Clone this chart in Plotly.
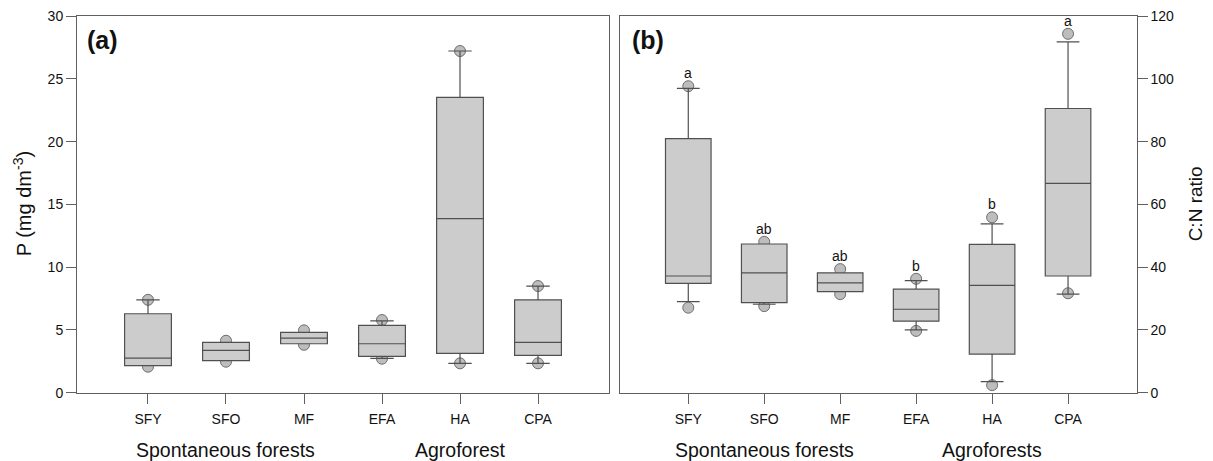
import plotly.graph_objects as go

categories = ["SFY", "SFO", "MF", "EFA", "HA", "CPA"]
positions = [1, 2, 3, 4, 5, 6]

# Panel (a): P (mg dm-3)
P_q1 = [2.15, 2.55, 3.90, 2.90, 3.13, 2.98]
P_median = [2.76, 3.37, 4.35, 3.90, 13.88, 4.01]
P_q3 = [6.29, 4.01, 4.81, 5.37, 23.54, 7.40]
P_lower = [2.15, 2.55, 3.90, 2.74, 2.34, 2.34]
P_upper = [7.40, 4.01, 4.81, 5.73, 27.23, 8.50]
P_low_pts = [2.07, 2.47, 3.82, 2.71, 2.34, 2.34]
P_high_pts = [7.40, 4.14, 4.97, 5.79, 27.23, 8.50]

# Panel (b): C:N ratio
CN_q1 = [34.85, 28.7, 32.2, 22.8, 12.3, 37.2]
CN_median = [37.2, 38.2, 35.0, 26.6, 34.2, 66.7]
CN_q3 = [81.0, 47.4, 38.2, 33.0, 47.3, 90.6]
CN_lower = [29.0, 28.2, 32.2, 20.0, 3.5, 31.4]
CN_upper = [97.0, 47.4, 38.2, 35.7, 53.8, 111.8]
CN_low_pts = [27.1, 27.6, 31.4, 19.7, 2.4, 31.7]
CN_high_pts = [97.7, 48.1, 39.4, 36.3, 55.9, 114.4]
CN_letters = ["a", "ab", "ab", "b", "b", "a"]

P_ticks = [0, 5, 10, 15, 20, 25, 30]
CN_ticks = [0, 20, 40, 60, 80, 100, 120]

groups_a = ["Spontaneous forests", "Agroforest"]
groups_b = ["Spontaneous forests", "Agroforests"]
group_pos = [2, 5]

FONT = "Liberation Sans, Arial, sans-serif"
LINE = "#505050"
BOXFILL = "#cccccc"
PTFILL = "#bdbdbd"
PTLINE = "#6e6e6e"
TXT = "#111111"

# page has an 8px body margin, so the figure is sized to fit the window
W, H = 1205, 453

fig = go.Figure()


def add_panel(xa, ya, q1, med, q3, lo, hi, lowpts, highpts):
    xs = []
    ys = []
    for p, a, b in zip(positions, lowpts, highpts):
        xs += [p, p]
        ys += [a, b]
    # circles, drawn behind the boxes
    fig.add_trace(go.Box(
        x=xs, y=ys, xaxis=xa, yaxis=ya,
        boxpoints="all", jitter=0, pointpos=0,
        fillcolor="rgba(0,0,0,0)", line=dict(color="rgba(0,0,0,0)", width=0),
        marker=dict(size=11, color=PTFILL, line=dict(color=PTLINE, width=1)),
        width=0.6, showlegend=False, hoverinfo="y",
    ))
    fig.add_trace(go.Box(
        x=positions, q1=q1, median=med, q3=q3,
        lowerfence=lo, upperfence=hi,
        xaxis=xa, yaxis=ya, boxpoints=False,
        fillcolor=BOXFILL, line=dict(color=LINE, width=1.2),
        width=0.6, whiskerwidth=0.5, showlegend=False,
    ))


add_panel("x", "y", P_q1, P_median, P_q3, P_lower, P_upper, P_low_pts, P_high_pts)
add_panel("x2", "y2", CN_q1, CN_median, CN_q3, CN_lower, CN_upper, CN_low_pts, CN_high_pts)

axis_common = dict(
    showline=True, linecolor="#606060", linewidth=1, mirror=True,
    ticks="outside", ticklen=10, tickcolor="#606060", tickwidth=1,
    showgrid=False, zeroline=False, automargin=False,
    tickfont=dict(family=FONT, size=14, color=TXT),
)

ydom = [1 - 384.7 / H, 1 - 8 / H]

fig.update_layout(
    width=W, height=H,
    margin=dict(l=0, r=0, t=0, b=0),
    paper_bgcolor="white", plot_bgcolor="white",
    boxmode="overlay",
    font=dict(family=FONT, color=TXT),
    xaxis=dict(domain=[69 / W, 601 / W], range=[0.09, 6.91], ticklabelstandoff=3,
               tickvals=positions, ticktext=categories, anchor="y", **axis_common),
    yaxis=dict(domain=ydom, range=[0, 30.02], tickvals=P_ticks,
               anchor="x", **axis_common),
    xaxis2=dict(domain=[612.3 / W, 1128.7 / W], range=[0.105, 6.904], ticklabelstandoff=3,
                tickvals=positions, ticktext=categories, anchor="y2", **axis_common),
    yaxis2=dict(domain=ydom, range=[0, 120.08], tickvals=CN_ticks,
                anchor="x2", side="right", **axis_common),
)

ann = []
# axis titles
ann.append(dict(text="P (mg dm<sup>-3</sup>)", xref="paper", yref="y domain", x=14 / W, y=0.5,
                xanchor="center", yanchor="middle", textangle=-90, showarrow=False,
                font=dict(family=FONT, size=20, color=TXT)))
ann.append(dict(text="C:N ratio", xref="paper", yref="y2 domain", x=1187 / W, y=0.5,
                xanchor="center", yanchor="middle", textangle=-90, showarrow=False,
                font=dict(family=FONT, size=19, color=TXT)))
# panel labels
ann.append(dict(text="<b>(a)</b>", xref="x domain", yref="y domain", x=0.015, y=0.936,
                xanchor="left", yanchor="middle", showarrow=False,
                font=dict(family=FONT, size=25, color=TXT)))
ann.append(dict(text="<b>(b)</b>", xref="x2 domain", yref="y2 domain", x=0.018, y=0.936,
                xanchor="left", yanchor="middle", showarrow=False,
                font=dict(family=FONT, size=25, color=TXT)))
# group labels
for g, p in zip(groups_a, group_pos):
    ann.append(dict(text=g, xref="x", yref="paper", x=p, y=1 - 442 / H, xanchor="center",
                    yanchor="middle", showarrow=False,
                    font=dict(family=FONT, size=19.5, color=TXT)))
for g, p in zip(groups_b, group_pos):
    ann.append(dict(text=g, xref="x2", yref="paper", x=p, y=1 - 442 / H, xanchor="center",
                    yanchor="middle", showarrow=False,
                    font=dict(family=FONT, size=19.5, color=TXT)))
# significance letters
for p, top, lt in zip(positions, CN_high_pts, CN_letters):
    ann.append(dict(text=lt, xref="x2", yref="y2", x=p, y=top, yshift=13,
                    xanchor="center", yanchor="middle", showarrow=False,
                    font=dict(family=FONT, size=14, color=TXT)))
fig.update_layout(annotations=ann)

fig.write_html("out.html")
